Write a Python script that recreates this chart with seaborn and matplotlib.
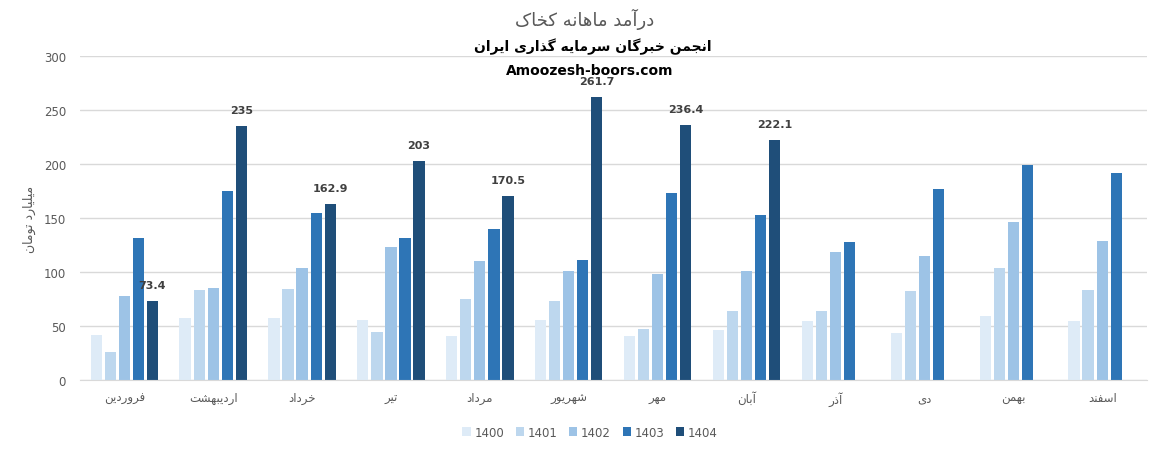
import numpy as np
import pandas as pd
import seaborn as sns
import matplotlib.pyplot as plt

# --- data ---
months = ['فروردین', 'اردیبهشت', 'خرداد', 'تیر', 'مرداد', 'شهریور',
          'مهر', 'آبان', 'آذر', 'دی', 'بهمن', 'اسفند']
years = ['1400', '1401', '1402', '1403', '1404']
y1400 = [42, 57.5, 57.5, 55.6, 40.8, 55.6, 40.8, 46.3, 54.7, 43.6, 59.3, 54.7]
y1401 = [26, 83.4, 84.3, 44.5, 75, 73, 47.3, 64, 64, 82.5, 103.8, 83.4]
y1402 = [78, 85.3, 103.8, 123, 110, 101, 98.2, 101, 118.6, 115, 146.4, 128.8]
y1403 = [131.6, 175, 154.8, 131.6, 140, 111, 173.3, 153, 127.9, 177, 199, 191.8]
y1404 = [73.4, 235, 162.9, 203, 170.5, 261.7, 236.4, 222.1, None, None, None, None]
colors = ['#DEEBF7', '#BDD7EE', '#9DC3E6', '#2E75B6', '#1F4E79']

# simple persian shaping (matplotlib has no text shaping / bidi)
FORMS = {
    'ا': ('\uFE8D', '\uFE8E'), 'آ': ('\uFE81', '\uFE82'),
    'د': ('\uFEA9', '\uFEAA'), 'ذ': ('\uFEAB', '\uFEAC'),
    'ر': ('\uFEAD', '\uFEAE'), 'و': ('\uFEED', '\uFEEE'),
    'ب': ('\uFE8F', '\uFE90', '\uFE91', '\uFE92'),
    'ت': ('\uFE95', '\uFE96', '\uFE97', '\uFE98'),
    'ج': ('\uFE9D', '\uFE9E', '\uFE9F', '\uFEA0'),
    'خ': ('\uFEA5', '\uFEA6', '\uFEA7', '\uFEA8'),
    'س': ('\uFEB1', '\uFEB2', '\uFEB3', '\uFEB4'),
    'ش': ('\uFEB5', '\uFEB6', '\uFEB7', '\uFEB8'),
    'ف': ('\uFED1', '\uFED2', '\uFED3', '\uFED4'),
    'ل': ('\uFEDD', '\uFEDE', '\uFEDF', '\uFEE0'),
    'م': ('\uFEE1', '\uFEE2', '\uFEE3', '\uFEE4'),
    'ن': ('\uFEE5', '\uFEE6', '\uFEE7', '\uFEE8'),
    'ه': ('\uFEE9', '\uFEEA', '\uFEEB', '\uFEEC'),
    'ک': ('\uFB8E', '\uFB8F', '\uFB90', '\uFB91'),
    'گ': ('\uFB92', '\uFB93', '\uFB94', '\uFB95'),
    'ی': ('\uFBFC', '\uFBFD', '\uFBFE', '\uFBFF'),
}


def fa(s):
    out = []
    for i, ch in enumerate(s):
        f = FORMS.get(ch)
        if f is None:
            out.append(ch)
            continue
        prev = s[i - 1] if i > 0 else ''
        nxt = s[i + 1] if i + 1 < len(s) else ''
        jp = prev in FORMS and len(FORMS[prev]) == 4
        jn = len(f) == 4 and nxt in FORMS
        if jp and jn:
            out.append(f[3])
        elif jp:
            out.append(f[1])
        elif jn:
            out.append(f[2])
        else:
            out.append(f[0])
    return ''.join(out)[::-1]


rows = []
for yr, vals in zip(years, [y1400, y1401, y1402, y1403, y1404]):
    for m, v in zip(months, vals):
        rows.append({'month': m, 'year': yr, 'value': np.nan if v is None else v})
df = pd.DataFrame(rows)

sns.set_style('white')
plt.rcParams['font.family'] = ['DejaVu Sans']

fig = plt.figure(figsize=(11.57, 4.52), dpi=100)
ax = fig.add_axes([0.069, 0.157, 0.922, 0.717])

sns.barplot(data=df, x='month', y='value', hue='year', order=months,
            palette=colors, width=0.79, gap=0.2, errorbar=None,
            saturation=1, linewidth=0, ax=ax)

ax.bar_label(ax.containers[4], fmt='{:g}', padding=8, fontsize=8,
             fontweight='bold', color='#404040')

ax.set_ylim(0, 300)
ax.set_yticks(range(0, 301, 50))
ax.yaxis.grid(True, color='#D9D9D9', linewidth=1)
ax.set_axisbelow(True)
for s in ['top', 'right', 'left']:
    ax.spines[s].set_visible(False)
ax.spines['bottom'].set_color('#D9D9D9')
ax.tick_params(length=0, colors='#595959', labelsize=8.5)
ax.tick_params(axis='y', pad=10)
ax.tick_params(axis='x', pad=8)
ax.set_xticks(range(len(months)))
ax.set_xticklabels([fa(m) for m in months], fontsize=8.5)
ax.set_xlabel('')
ax.set_ylabel(fa('میلیارد تومان'), color='#595959', fontsize=9)
ax.yaxis.set_label_coords(-0.041, 0.5)

ax.legend(loc='center', bbox_to_anchor=(0.51, 0.042),
          bbox_transform=fig.transFigure, ncol=5,
          frameon=False, fontsize=8.5, handlelength=0.7, handleheight=0.7,
          handletextpad=0.3, columnspacing=1.0, labelcolor='#595959')

fig.text(0.505, 0.956, fa('درآمد ماهانه کخاک'), ha='center', va='center',
         fontsize=13, color='#595959')
fig.text(0.512, 0.896, fa('انجمن خبرگان سرمایه گذاری ایران'), ha='center',
         va='center', fontsize=10, fontweight='bold', color='black')
fig.text(0.51, 0.843, 'Amoozesh-boors.com', ha='center', va='center',
         fontsize=10, fontweight='bold', color='black')

fig.savefig('out.png', dpi=100)
